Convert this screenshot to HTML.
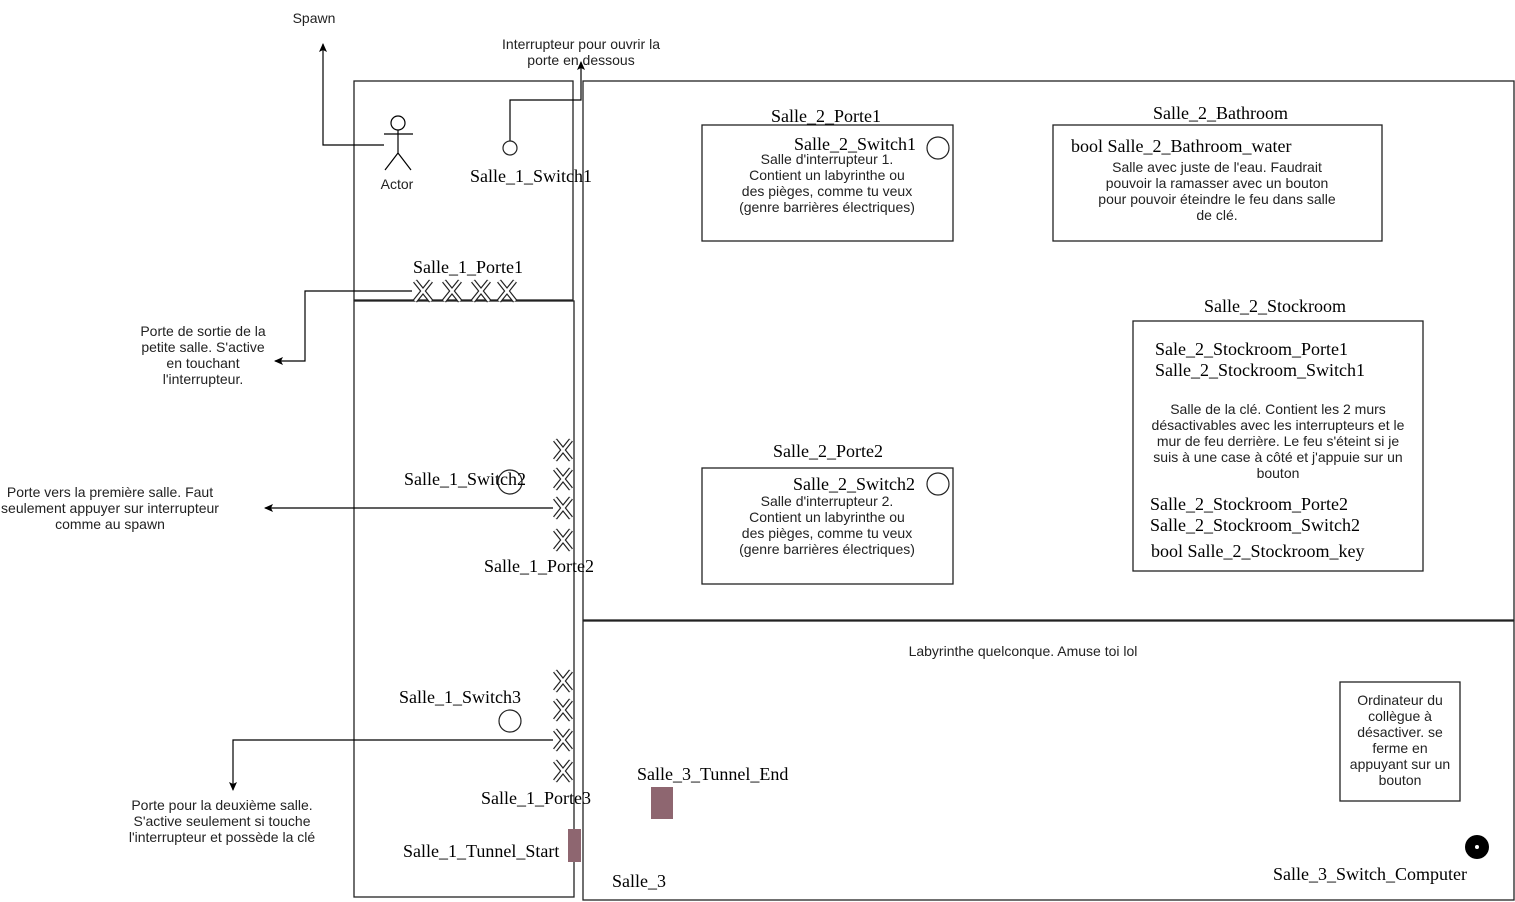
<!DOCTYPE html>
<html><head><meta charset="utf-8"><style>
html,body{margin:0;padding:0;background:#fff;}
svg{display:block;}
.s{font-family:"Liberation Serif",serif;font-size:18px;fill:#000;}
.a{font-family:"Liberation Sans",sans-serif;font-size:14px;fill:#222;}
</style></head><body>
<svg width="1515" height="902" viewBox="0 0 1515 902" xmlns="http://www.w3.org/2000/svg">
<defs>
<marker id="ah" markerWidth="10" markerHeight="10" refX="8" refY="5" orient="auto" markerUnits="userSpaceOnUse">
<path d="M0,1 L9,5 L0,9 L2,5 Z" fill="#000"/></marker>
<g id="x"><path d="M-8,-10 L8,10 M8,-10 L-8,10" stroke="#222" stroke-width="5" fill="none"/><path d="M-8,-10 L8,10 M8,-10 L-8,10" stroke="#fff" stroke-width="2.6" fill="none"/></g>
</defs>
<g fill="none" stroke="#222" stroke-width="1.3">
<rect x="354" y="81" width="219" height="219"/>
<rect x="354" y="301" width="220" height="596"/>
<rect x="583" y="81" width="931" height="539"/>
<rect x="583" y="621" width="931" height="279"/>
<rect x="702" y="125" width="251" height="116"/>
<rect x="1053" y="125" width="329" height="116"/>
<rect x="1133" y="321" width="290" height="250"/>
<rect x="702" y="468" width="251" height="116"/>
<rect x="1340" y="682" width="120" height="119"/>
</g>
<g fill="none" stroke="#000" stroke-width="1.2">
<path d="M384,145 L323,145 L323,44" marker-end="url(#ah)"/>
<path d="M510,141 L510,100 L581,100 L581,62" marker-end="url(#ah)"/>
<path d="M412,291 L305,291 L305,361 L275,361" marker-end="url(#ah)"/>
<path d="M553,508 L265,508" marker-end="url(#ah)"/>
<path d="M553,740 L233,740 L233,790" marker-end="url(#ah)"/>
</g>
<g fill="none" stroke="#000" stroke-width="1.2">
<circle cx="398" cy="123" r="7"/>
<path d="M398,130 L398,153 M384,134 L413,134 M398,153 L385,170 M398,153 L411,170"/>
</g>
<text class="a" x="397" y="189" text-anchor="middle" font-size="12">Actor</text>
<g fill="#fff" stroke="#222" stroke-width="1.2">
<circle cx="510" cy="148" r="7"/>
<circle cx="510" cy="482" r="12"/>
<circle cx="510" cy="721" r="11"/>
<circle cx="938" cy="148" r="11"/>
<circle cx="938" cy="484" r="11"/>
</g>
<circle cx="1477" cy="847" r="12" fill="#000"/><circle cx="1477" cy="847" r="2" fill="#fff"/>
<use href="#x" x="423" y="291"/><use href="#x" x="452" y="291"/><use href="#x" x="481" y="291"/><use href="#x" x="507" y="291"/>
<use href="#x" x="563" y="450"/><use href="#x" x="563" y="479"/><use href="#x" x="563" y="508"/><use href="#x" x="563" y="540"/>
<use href="#x" x="563" y="681"/><use href="#x" x="563" y="710"/><use href="#x" x="563" y="740"/><use href="#x" x="563" y="771"/>
<rect x="568" y="829" width="13" height="33" fill="#8e6670"/>
<rect x="651" y="787" width="22" height="32" fill="#8e6670"/>
<text class="s" x="470" y="182">Salle_1_Switch1</text>
<text class="s" x="413" y="273">Salle_1_Porte1</text>
<text class="s" x="404" y="485">Salle_1_Switch2</text>
<text class="s" x="484" y="572">Salle_1_Porte2</text>
<text class="s" x="399" y="703">Salle_1_Switch3</text>
<text class="s" x="481" y="804">Salle_1_Porte3</text>
<text class="s" x="403" y="857">Salle_1_Tunnel_Start</text>
<text class="s" x="637" y="780">Salle_3_Tunnel_End</text>
<text class="s" x="612" y="887">Salle_3</text>
<text class="s" x="1273" y="880">Salle_3_Switch_Computer</text>
<text class="s" x="771" y="122">Salle_2_Porte1</text>
<text class="s" x="794" y="150">Salle_2_Switch1</text>
<text class="s" x="1153" y="119">Salle_2_Bathroom</text>
<text class="s" x="1071" y="152">bool Salle_2_Bathroom_water</text>
<text class="s" x="1204" y="312">Salle_2_Stockroom</text>
<text class="s" x="1155" y="355">Sale_2_Stockroom_Porte1</text>
<text class="s" x="1155" y="376">Salle_2_Stockroom_Switch1</text>
<text class="s" x="1150" y="510">Salle_2_Stockroom_Porte2</text>
<text class="s" x="1150" y="531">Salle_2_Stockroom_Switch2</text>
<text class="s" x="1151" y="557">bool Salle_2_Stockroom_key</text>
<text class="s" x="773" y="457">Salle_2_Porte2</text>
<text class="s" x="793" y="490">Salle_2_Switch2</text>
<g class="a" text-anchor="middle">
<text x="314" y="23">Spawn</text>
<text x="581" y="49">Interrupteur pour ouvrir la</text>
<text x="581" y="65">porte en dessous</text>
<text x="203" y="336">Porte de sortie de la</text>
<text x="203" y="352">petite salle. S'active</text>
<text x="203" y="368">en touchant</text>
<text x="203" y="384">l'interrupteur.</text>
<text x="110" y="497">Porte vers la première salle. Faut</text>
<text x="110" y="513">seulement appuyer sur interrupteur</text>
<text x="110" y="529">comme au spawn</text>
<text x="222" y="810">Porte pour la deuxième salle.</text>
<text x="222" y="826">S'active seulement si touche</text>
<text x="222" y="842">l'interrupteur et possède la clé</text>
<text x="827" y="164">Salle d'interrupteur 1.</text>
<text x="827" y="180">Contient un labyrinthe ou</text>
<text x="827" y="196">des pièges, comme tu veux</text>
<text x="827" y="212">(genre barrières électriques)</text>
<text x="827" y="506">Salle d'interrupteur 2.</text>
<text x="827" y="522">Contient un labyrinthe ou</text>
<text x="827" y="538">des pièges, comme tu veux</text>
<text x="827" y="554">(genre barrières électriques)</text>
<text x="1217" y="172">Salle avec juste de l'eau. Faudrait</text>
<text x="1217" y="188">pouvoir la ramasser avec un bouton</text>
<text x="1217" y="204">pour pouvoir éteindre le feu dans salle</text>
<text x="1217" y="220">de clé.</text>
<text x="1278" y="414">Salle de la clé. Contient les 2 murs</text>
<text x="1278" y="430">désactivables avec les interrupteurs et le</text>
<text x="1278" y="446">mur de feu derrière. Le feu s'éteint si je</text>
<text x="1278" y="462">suis à une case à côté et j'appuie sur un</text>
<text x="1278" y="478">bouton</text>
<text x="1023" y="656">Labyrinthe quelconque. Amuse toi lol</text>
<text x="1400" y="705">Ordinateur du</text>
<text x="1400" y="721">collègue à</text>
<text x="1400" y="737">désactiver. se</text>
<text x="1400" y="753">ferme en</text>
<text x="1400" y="769">appuyant sur un</text>
<text x="1400" y="785">bouton</text>
</g>
</svg>
</body></html>
